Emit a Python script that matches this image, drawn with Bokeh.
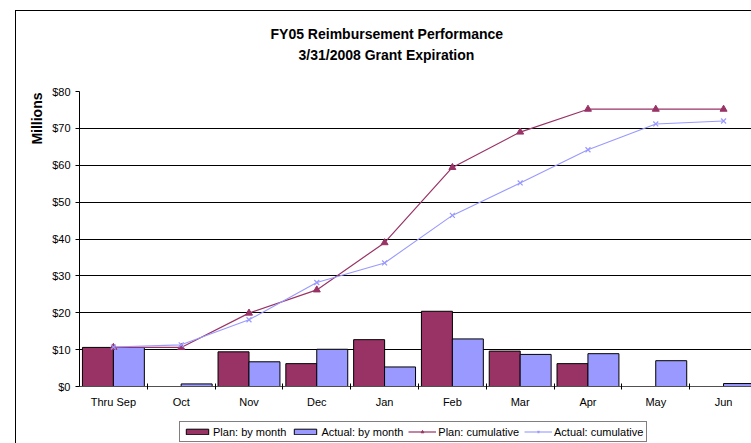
from bokeh.plotting import figure
from bokeh.layouts import column
from bokeh.models import (FixedTicker, Legend, LegendItem, Title,
                          ColumnDataSource, Range1d)
from bokeh.embed import file_html
from bokeh.resources import INLINE

# ---- data ($ millions) ----
months = ["Thru Sep", "Oct", "Nov", "Dec", "Jan", "Feb", "Mar", "Apr", "May", "Jun"]
plan_month = [10.6, 0.0, 9.4, 6.2, 12.7, 20.4, 9.6, 6.2, 0.0, 0.0]
actual_month = [10.6, 0.7, 6.7, 10.1, 5.3, 12.9, 8.7, 8.9, 7.0, 0.8]
plan_cum = [10.6, 10.6, 19.9, 26.2, 39.0, 59.4, 69.0, 75.2, 75.2, 75.2]
actual_cum = [10.7, 11.3, 18.1, 28.2, 33.5, 46.4, 55.2, 64.2, 71.2, 72.0]
y_ticks = [0, 10, 20, 30, 40, 50, 60, 70, 80]
y_tick_labels = ["$0", "$10", "$20", "$30", "$40", "$50", "$60", "$70", "$80"]
title_lines = ["FY05 Reimbursement Performance", "3/31/2008 Grant Expiration"]
series_names = ["Plan: by month", "Actual: by month", "Plan: cumulative", "Actual: cumulative"]

PLAN = "#993366"
ACTUAL = "#9999FF"
FONT = "Liberation Sans"

centers = [i + 0.5 for i in range(len(months))]
bar_w = 0.457
src = ColumnDataSource(dict(
    xc=centers,
    xp=[c - 0.228 for c in centers],
    xa=[c + 0.228 for c in centers],
    plan_month=plan_month, actual_month=actual_month,
    plan_cum=plan_cum, actual_cum=actual_cum,
))


def draw_series(fig):
    rp = fig.vbar(x="xp", top="plan_month", width=bar_w, source=src,
                  fill_color=PLAN, line_color="black", line_width=1)
    ra = fig.vbar(x="xa", top="actual_month", width=bar_w, source=src,
                  fill_color=ACTUAL, line_color="black", line_width=1)
    lp = fig.line(x="xc", y="plan_cum", source=src, line_color=PLAN, line_width=1.2)
    mp = fig.scatter(x="xc", y="plan_cum", source=src, marker="triangle", size=7,
                     fill_color=PLAN, line_color=PLAN)
    la = fig.line(x="xc", y="actual_cum", source=src, line_color=ACTUAL, line_width=1.1)
    ma = fig.scatter(x="xc", y="actual_cum", source=src, marker="x", size=7,
                     line_color=ACTUAL, line_width=1.2)
    return [[rp], [ra], [lp, mp], [la, ma]]


# ---------------- main chart ----------------
p = figure(width=735, height=400, output_backend="svg", toolbar_location=None,
           title_location=None,
           x_range=Range1d(0, 9.912), y_range=Range1d(0, 80),
           min_border_left=63, min_border_right=0, min_border_top=80,
           min_border_bottom=25)
p.outline_line_color = None
p.background_fill_color = "white"
p.border_fill_color = "white"
draw_series(p)

p.yaxis.ticker = FixedTicker(ticks=y_ticks)
p.yaxis.major_label_overrides = {t: l for t, l in zip(y_ticks, y_tick_labels)}
p.yaxis.major_label_text_font = FONT
p.yaxis.major_label_text_font_size = "11px"
p.yaxis.major_label_text_color = "black"
p.yaxis.major_tick_in = 0
p.yaxis.major_tick_out = 4
p.yaxis.major_label_standoff = 5
p.yaxis.minor_tick_line_color = None
p.yaxis.axis_line_color = "black"
p.yaxis.major_tick_line_color = "black"

p.xaxis.ticker = FixedTicker(ticks=centers, minor_ticks=list(range(1, len(months))))
p.xaxis.major_label_overrides = {c: m for c, m in zip(centers, months)}
p.xaxis.major_label_text_font = FONT
p.xaxis.major_label_text_font_size = "11px"
p.xaxis.major_label_text_color = "black"
p.xaxis.major_tick_in = 0
p.xaxis.major_tick_out = 0
p.xaxis.major_tick_line_color = None
p.xaxis.minor_tick_in = 3
p.xaxis.minor_tick_out = 3
p.xaxis.minor_tick_line_color = "black"
p.xaxis.major_label_standoff = 6
p.xaxis.axis_line_color = "#505050"

p.xgrid.grid_line_color = None
p.ygrid.ticker = FixedTicker(ticks=y_ticks)
p.ygrid.grid_line_color = "black"
p.ygrid.grid_line_alpha = 1.0
p.ygrid.grid_line_width = 1

# titles (stacked outward from the frame)
p.add_layout(Title(text=" ", standoff=24, text_font_size="1px"), "above")
p.add_layout(Title(text=title_lines[1], align="left", offset=219, standoff=4,
                   text_font=FONT, text_font_size="14px", text_font_style="bold",
                   text_color="black"), "above")
p.add_layout(Title(text=title_lines[0], align="left", offset=191, standoff=2,
                   text_font=FONT, text_font_size="14px", text_font_style="bold",
                   text_color="black"), "above")
p.add_layout(Title(text="Millions", align="right", offset=1, standoff=9,
                   text_font=FONT, text_font_size="14px", text_font_style="bold",
                   text_color="black"), "left")

# ---------------- legend strip ----------------
lf = figure(width=735, height=32, output_backend="svg", toolbar_location=None,
            title_location=None, x_axis_type=None, y_axis_type=None,
            x_range=Range1d(-20, -19), y_range=Range1d(-20, -19),
            min_border=0)
lf.outline_line_color = None
lf.xgrid.grid_line_color = None
lf.ygrid.grid_line_color = None
lf.background_fill_color = "white"
lf.border_fill_color = "white"
legend_renderers = draw_series(lf)

legend = Legend(items=[LegendItem(label=n, renderers=r)
                       for n, r in zip(series_names, legend_renderers)],
                orientation="horizontal", location=(100, 1))
legend.label_text_font = FONT
legend.label_text_font_size = "11px"
legend.label_text_color = "black"
legend.label_height = 13
legend.glyph_height = 7
legend.glyph_width = 28
legend.label_standoff = 2
legend.spacing = 5
legend.padding = 3
legend.margin = 0
legend.border_line_color = "black"
legend.border_line_width = 1
legend.background_fill_alpha = 1
lf.add_layout(legend, "center")

layout = column(p, lf, spacing=0, margin=(10, 0, 0, 15),
                styles={"border-left": "1px solid black", "border-top": "1px solid black"})

open("out.html", "w").write(file_html(layout, INLINE))
